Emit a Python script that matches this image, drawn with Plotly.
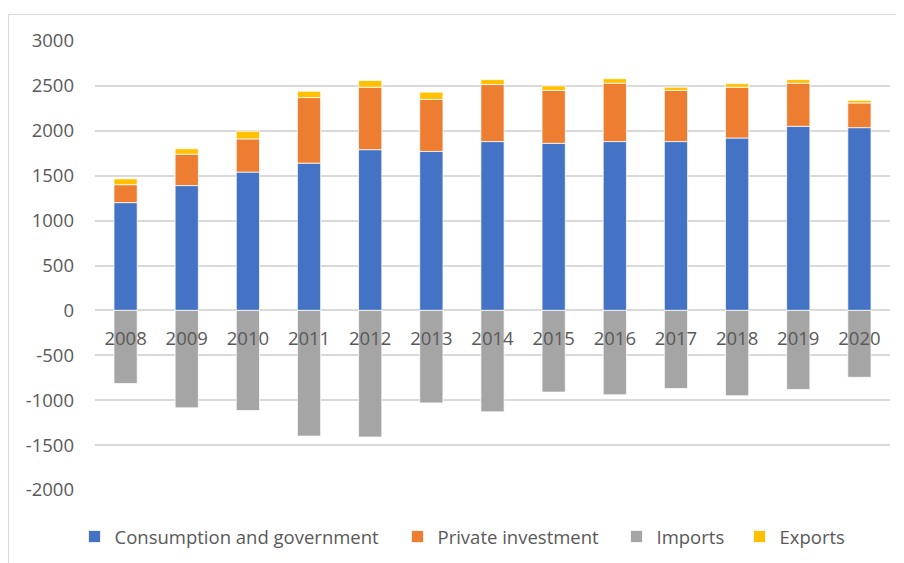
import plotly.graph_objects as go

years = ["2008", "2009", "2010", "2011", "2012", "2013", "2014",
         "2015", "2016", "2017", "2018", "2019", "2020"]
consumption = [1200, 1390, 1540, 1640, 1790, 1770, 1880, 1860, 1880, 1880, 1920, 2050, 2035]
investment = [200, 350, 370, 730, 695, 580, 635, 590, 650, 570, 565, 480, 275]
imports = [-815, -1085, -1115, -1400, -1410, -1030, -1130, -910, -940, -870, -950, -880, -745]
exports = [65, 60, 85, 70, 75, 80, 55, 50, 50, 35, 40, 40, 30]

y_ticks = [3000, 2500, 2000, 1500, 1000, 500, 0, -500, -1000, -1500, -2000]

FONT = "Open Sans"
TXT = "#595959"
GRID = "#D9D9D9"
FS = 18.5

# page offset of the figure (default body margin)
OFF = 8

series = [
    ("Consumption and government", consumption, "#4472C4", "legend", 74.5),
    ("Private investment", investment, "#ED7D31", "legend2", 397.5),
    ("Imports", imports, "#A5A5A5", "legend3", 616.5),
    ("Exports", exports, "#FFC000", "legend4", 739.5),
]

W, H = 904 - OFF, 563 - OFF
L, R, T, B = 95 - OFF, 14, 41 - OFF, 73
pw = W - L - R
ph = H - T - B

fig = go.Figure()
legends = {}
for name, vals, color, lg, lx in series:
    fig.add_trace(go.Bar(
        x=years, y=vals, name=name, legend=lg,
        marker=dict(color=color, line=dict(color="white", width=0.75)),
    ))
    legends[lg] = dict(
        orientation="h",
        x=(lx - OFF - L) / pw, xanchor="left",
        y=(H - B - (537 - OFF)) / ph, yanchor="middle",
        font=dict(family=FONT, size=FS, color=TXT),
        bgcolor="rgba(0,0,0,0)",
    )

fig.update_layout(
    width=W, height=H,
    barmode="relative",
    bargap=0.62,
    margin=dict(l=L, r=R, t=T, b=B, autoexpand=False),
    paper_bgcolor="white",
    plot_bgcolor="white",
    font=dict(family=FONT, size=FS, color=TXT),
    showlegend=True,
    xaxis=dict(
        type="category",
        anchor="free",
        position=2000 / 5000,
        showgrid=False,
        showline=False,
        ticks="",
        ticklabelstandoff=15,
        tickfont=dict(family=FONT, size=FS, color=TXT),
        layer="above traces",
        automargin=False,
    ),
    yaxis=dict(
        range=[-2000, 3000],
        tickvals=y_ticks,
        ticktext=[str(v) for v in y_ticks],
        showgrid=True,
        gridcolor=GRID,
        gridwidth=1.5,
        zeroline=True,
        zerolinecolor=GRID,
        zerolinewidth=1.5,
        showline=False,
        ticks="",
        ticklabelstandoff=20,
        tickfont=dict(family=FONT, size=FS, color=TXT),
        automargin=False,
    ),
    shapes=[dict(
        type="rect", xref="paper", yref="paper",
        x0=(0.5 - L) / pw, x1=1.2,
        y0=-0.3, y1=(H - B - (14.5 - OFF)) / ph,
        line=dict(color=GRID, width=1),
        fillcolor="rgba(0,0,0,0)",
        layer="below",
    )],
    **legends,
)

fig.write_html("out.html")
